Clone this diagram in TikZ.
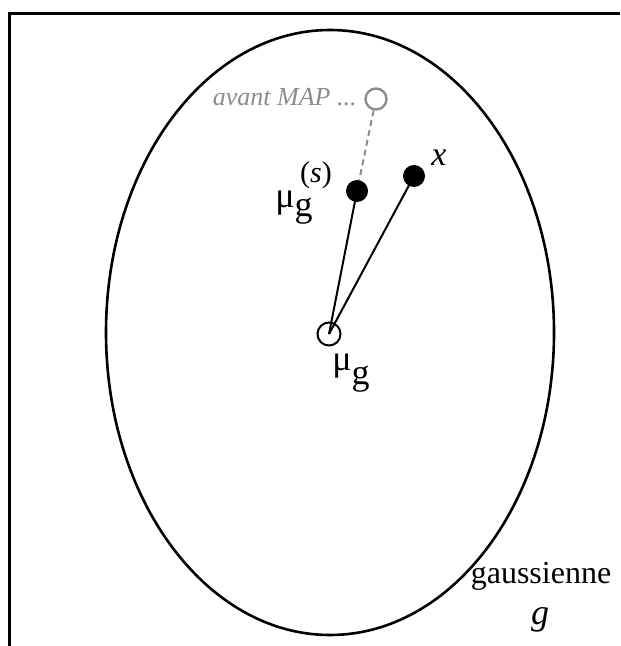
\documentclass[tikz,border=0pt]{standalone}
\usepackage{fontspec}
\setmainfont{Liberation Serif}
\usetikzlibrary{positioning}
\definecolor{mapgray}{HTML}{8C8C8C}
\tikzset{
  ptfull/.style={circle,fill=black,minimum size=11pt,inner sep=0pt},
  ptopen/.style={circle,draw=black,line width=1pt,minimum size=11.5pt,inner sep=0pt},
  link/.style={line width=1pt},
  lbl/.style={inner sep=0pt,font=\fontsize{18}{21}\selectfont},
}
\begin{document}
\begin{tikzpicture}[x=0.5pt,y=-0.5pt]
\useasboundingbox (0,0) rectangle (620,646);
% cadre et gaussienne
\draw[line width=1.5pt] (9,646) -- (9,14) -- (620,14);
\draw[line width=1.3pt] (330,332.5) ellipse [x radius=224,y radius=302.5];
% points
\node[ptopen] (mu) at (329,334) {};
\node[ptfull] (muS) at (357,191) {};
\node[ptfull] (x) at (414,176) {};
\node[ptopen,draw=mapgray,line width=1.2pt,minimum size=10.5pt] (map) at (376,99) {};
\draw[link] (mu.center) -- (muS.center);
\draw[link] (mu.center) -- (x.center);
\draw[link,mapgray,dash pattern=on 3pt off 2pt] (map) -- (muS);
% etiquettes
\node[lbl,anchor=base east,text=mapgray,font=\fontsize{13}{16}\selectfont\itshape] (mapT) at (357,106) {avant MAP ...};
\node[lbl,anchor=base,font=\fontsize{17}{20}\selectfont\itshape] (xT) at (439,166) {x};
\node[lbl,anchor=base west] (muST) at (275,208) {μ\raisebox{-0.25em}{g}\hspace{-0.35em}\raisebox{0.7em}{\fontsize{15}{17}\selectfont(\textit{s})}};
\node[lbl,anchor=base west] (muT) at (332,370) {μ\raisebox{-0.4em}{g}};
\node[lbl,anchor=base,font=\fontsize{16}{19}\selectfont] (gT) at (541,583) {gaussienne};
\node[lbl,anchor=base,font=\fontsize{18}{21}\selectfont\itshape] (gI) at (540,624) {g};
\end{tikzpicture}
\end{document}
